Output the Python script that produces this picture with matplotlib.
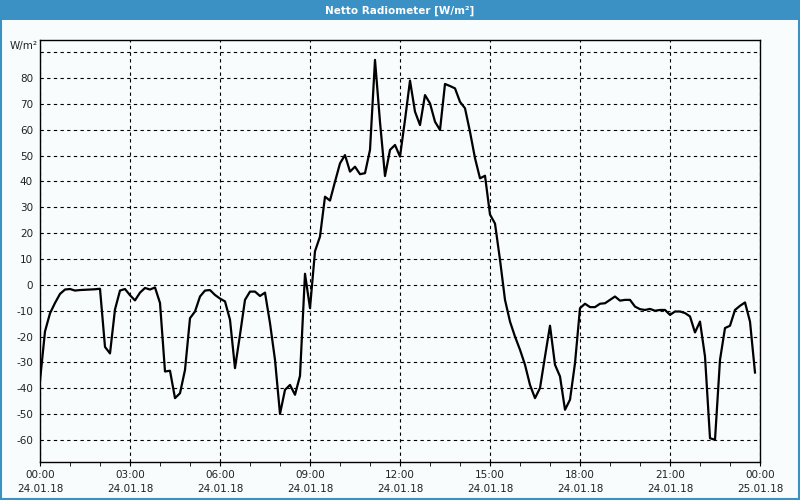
import numpy as np
import pandas as pd
import matplotlib
matplotlib.use("Agg")
import matplotlib.pyplot as plt
import matplotlib.dates as mdates
from matplotlib.patches import Rectangle

# 10-minute values of the net radiometer, 24.01.18 00:00 .. 23:50
start = "2018-01-24 00:00"
step = "10min"
values = [
    -37, -18, -11, -7, -3.5, -1.8, -1.6, -2.2, -2.0, -1.9, -1.8, -1.7,
    -1.5, -24, -26.5, -9.5, -2.2, -1.6, -4, -6, -3, -1.2, -1.8, -1.0,
    -7, -33.5, -33.2, -43.8, -41.9, -32.9, -12.9, -10.3, -4.5, -2.2, -2.0, -3.9,
    -5.3, -6.4, -13.5, -32.2, -19.3, -5.8, -2.6, -2.6, -4.3, -3.0, -14.8, -29,
    -49.9, -40.6, -38.7, -42.5, -35.2, 4.3, -9.0, 13, 18.7, 34.1, 32.6, 39.9,
    47, 50.2, 43.8, 45.7, 42.8, 43.2, 52.2, 87, 63, 42.1, 52.2, 54.1,
    49.6, 63.8, 79, 67, 61.8, 73.4, 70.2, 63.1, 59.9, 77.7, 76.9, 76,
    70.8, 68.3, 59.2, 49, 41.2, 42.2, 27.2, 23.7, 9.7, -5.8, -14.2, -20,
    -25.1, -30.9, -38.7, -43.8, -39.9, -27.7, -15.8, -30.9, -35.4, -48.3, -44.4, -30.3,
    -9.0, -7.3, -8.6, -8.6, -7.3, -7.1, -5.8, -4.5, -6.1, -5.8, -5.8, -8.4,
    -9.4, -9.7, -9.3, -10, -9.7, -9.7, -11.6, -10.3, -10.3, -10.9, -12.2, -18.4,
    -14.2, -27.7, -59.3, -59.9, -29, -16.7, -15.8, -9.7, -8.1, -6.8, -14.2, -33.9,
]
times = pd.date_range(start, periods=len(values), freq=step)

title = "Netto Radiometer [W/m²]"
unit = "W/m²"
y_ticks = list(range(-60, 100, 10))

bg = "#f9fcfc"
blue = "#3b91c4"

fig = plt.figure(figsize=(8, 5), dpi=100, facecolor=bg)

# title bar and frame
fig.patches.append(Rectangle((0, 0.96), 1, 0.04, transform=fig.transFigure,
                             facecolor=blue, edgecolor="none", zorder=0))
fig.patches.append(Rectangle((0.001, 0.002), 0.998, 0.997, transform=fig.transFigure,
                             facecolor="none", edgecolor=blue, linewidth=1.5, zorder=1))
fig.text(0.5, 0.979, title, color="white", fontsize=7.5, fontweight="bold",
         ha="center", va="center")

ax = fig.add_axes([0.05, 0.076, 0.90, 0.844], facecolor=bg)
ax.plot(times, values, color="black", linewidth=1.6)

ax.set_xlim(pd.Timestamp("2018-01-24 00:00"), pd.Timestamp("2018-01-25 00:00"))
ax.set_ylim(-68.5, 94.7)

ax.set_yticks(y_ticks)
ax.set_yticklabels([str(v) if v <= 80 else "" for v in y_ticks])
ax.xaxis.set_major_locator(mdates.HourLocator(byhour=range(0, 24, 3)))
ax.xaxis.set_minor_locator(mdates.HourLocator())
ax.xaxis.set_major_formatter(mdates.DateFormatter("%H:%M\n%d.%m.%y"))

ax.grid(True, which="major", color="black", linestyle=(0, (3, 3)), linewidth=0.8)
ax.tick_params(axis="y", length=0, pad=5, labelsize=7.5, labelcolor="#222222")
ax.tick_params(axis="x", which="major", length=3, pad=3, labelsize=7.5,
               labelcolor="#222222")
ax.tick_params(axis="x", which="minor", length=3)
for lbl in ax.get_xticklabels():
    lbl.set_linespacing(1.5)
for sp in ax.spines.values():
    sp.set_color("black")
    sp.set_linewidth(1)

fig.text(0.012, 1 - 46 / 500, unit, fontsize=7.5, color="#222222",
         ha="left", va="center")

fig.savefig("out.png", dpi=100, facecolor=bg)
